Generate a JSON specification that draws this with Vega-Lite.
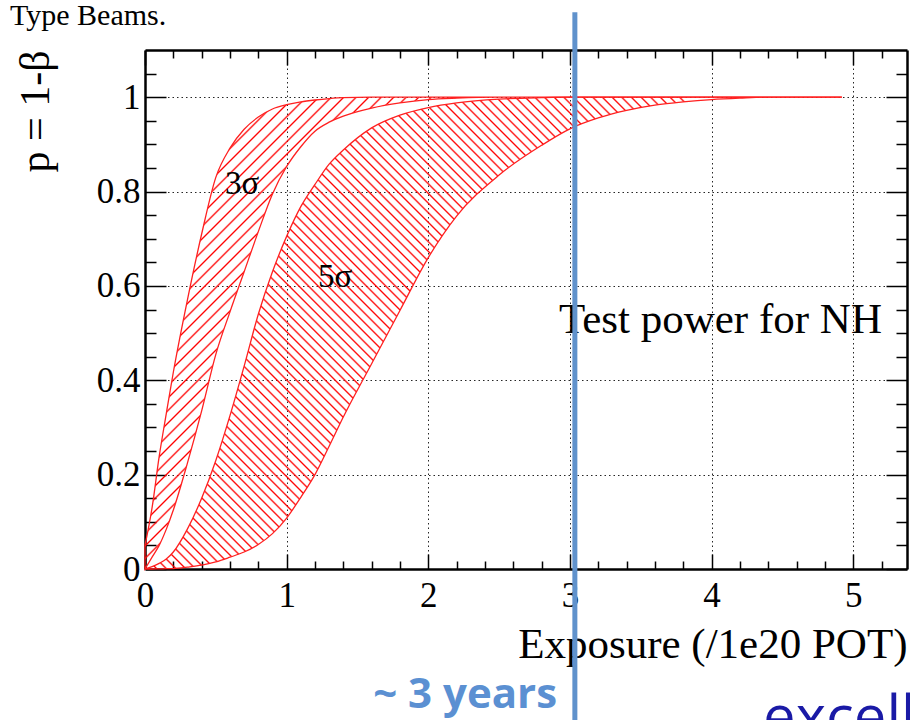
{
  "$schema": "https://vega.github.io/schema/vega-lite/v6.json",
  "width": 762,
  "height": 519,
  "autosize": "none",
  "padding": {"left": 145, "top": 50, "right": 3, "bottom": 151},
  "background": "white",
  "config": {"view": {"stroke": null}},
  "datasets": {
    "bands": [
      {"band": "3s", "x": 0, "lo": 0, "hi": 0.05},
      {"band": "3s", "x": 0.05, "lo": 0.025, "hi": 0.13},
      {"band": "3s", "x": 0.1, "lo": 0.05, "hi": 0.238},
      {"band": "3s", "x": 0.15, "lo": 0.084, "hi": 0.329},
      {"band": "3s", "x": 0.2, "lo": 0.125, "hi": 0.417},
      {"band": "3s", "x": 0.3, "lo": 0.225, "hi": 0.571},
      {"band": "3s", "x": 0.4, "lo": 0.335, "hi": 0.71},
      {"band": "3s", "x": 0.5, "lo": 0.455, "hi": 0.83},
      {"band": "3s", "x": 0.6, "lo": 0.545, "hi": 0.892},
      {"band": "3s", "x": 0.7, "lo": 0.63, "hi": 0.932},
      {"band": "3s", "x": 0.8, "lo": 0.715, "hi": 0.958},
      {"band": "3s", "x": 0.9, "lo": 0.795, "hi": 0.975},
      {"band": "3s", "x": 1.0, "lo": 0.853, "hi": 0.984},
      {"band": "3s", "x": 1.1, "lo": 0.895, "hi": 0.99},
      {"band": "3s", "x": 1.2, "lo": 0.928, "hi": 0.994},
      {"band": "3s", "x": 1.3, "lo": 0.947, "hi": 0.997},
      {"band": "3s", "x": 1.4, "lo": 0.96, "hi": 0.999},
      {"band": "3s", "x": 1.6, "lo": 0.977, "hi": 1},
      {"band": "3s", "x": 1.8, "lo": 0.988, "hi": 1},
      {"band": "3s", "x": 2.0, "lo": 0.995, "hi": 1},
      {"band": "3s", "x": 2.2, "lo": 0.998, "hi": 1},
      {"band": "3s", "x": 2.5, "lo": 1, "hi": 1},
      {"band": "3s", "x": 2.8, "lo": 1, "hi": 1},
      {"band": "3s", "x": 3.2, "lo": 1, "hi": 1},
      {"band": "3s", "x": 3.6, "lo": 1, "hi": 1},
      {"band": "3s", "x": 4.0, "lo": 1, "hi": 1},
      {"band": "3s", "x": 4.4, "lo": 1, "hi": 1},
      {"band": "3s", "x": 4.92, "lo": 1, "hi": 1},
      {"band": "5s", "x": 0, "lo": 0, "hi": 0},
      {"band": "5s", "x": 0.05, "lo": 0, "hi": 0.005},
      {"band": "5s", "x": 0.1, "lo": 0.0003, "hi": 0.012},
      {"band": "5s", "x": 0.15, "lo": 0.0006, "hi": 0.021},
      {"band": "5s", "x": 0.2, "lo": 0.001, "hi": 0.036},
      {"band": "5s", "x": 0.3, "lo": 0.004, "hi": 0.085},
      {"band": "5s", "x": 0.4, "lo": 0.008, "hi": 0.15},
      {"band": "5s", "x": 0.5, "lo": 0.015, "hi": 0.23},
      {"band": "5s", "x": 0.6, "lo": 0.025, "hi": 0.325},
      {"band": "5s", "x": 0.7, "lo": 0.036, "hi": 0.43},
      {"band": "5s", "x": 0.8, "lo": 0.052, "hi": 0.54},
      {"band": "5s", "x": 0.9, "lo": 0.075, "hi": 0.63},
      {"band": "5s", "x": 1.0, "lo": 0.108, "hi": 0.705},
      {"band": "5s", "x": 1.1, "lo": 0.152, "hi": 0.768},
      {"band": "5s", "x": 1.2, "lo": 0.2, "hi": 0.815},
      {"band": "5s", "x": 1.3, "lo": 0.26, "hi": 0.858},
      {"band": "5s", "x": 1.4, "lo": 0.322, "hi": 0.888},
      {"band": "5s", "x": 1.6, "lo": 0.435, "hi": 0.935},
      {"band": "5s", "x": 1.8, "lo": 0.548, "hi": 0.962},
      {"band": "5s", "x": 2.0, "lo": 0.66, "hi": 0.978},
      {"band": "5s", "x": 2.2, "lo": 0.748, "hi": 0.988},
      {"band": "5s", "x": 2.5, "lo": 0.835, "hi": 0.996},
      {"band": "5s", "x": 2.8, "lo": 0.898, "hi": 0.999},
      {"band": "5s", "x": 3.0, "lo": 0.933, "hi": 1},
      {"band": "5s", "x": 3.2, "lo": 0.956, "hi": 1},
      {"band": "5s", "x": 3.4, "lo": 0.972, "hi": 1},
      {"band": "5s", "x": 3.6, "lo": 0.983, "hi": 1},
      {"band": "5s", "x": 3.8, "lo": 0.99, "hi": 1},
      {"band": "5s", "x": 4.0, "lo": 0.995, "hi": 1},
      {"band": "5s", "x": 4.2, "lo": 0.998, "hi": 1},
      {"band": "5s", "x": 4.4, "lo": 1, "hi": 1},
      {"band": "5s", "x": 4.92, "lo": 1, "hi": 1}
    ]
  },
  "resolve": {"axis": {"x": "independent", "y": "independent"}},
  "layer": [
    {
      "data": {"name": "bands"},
      "transform": [{"filter": "datum.band === '3s'"}],
      "mark": {
        "type": "area", "stroke": "#ff2020", "strokeWidth": 1.3, "interpolate": "monotone",
        "fill": {
          "gradient": "linear", "x1": 0, "y1": 0, "x2": 1, "y2": 0.677,
          "stops": [
            {"offset": 0.12, "color": "rgba(255,0,0,0)"}, {"offset": 0.1218, "color": "#ff0000"}, {"offset": 0.1236, "color": "rgba(255,0,0,0)"},
            {"offset": 0.1323, "color": "rgba(255,0,0,0)"}, {"offset": 0.1341, "color": "#ff0000"}, {"offset": 0.1359, "color": "rgba(255,0,0,0)"},
            {"offset": 0.1446, "color": "rgba(255,0,0,0)"}, {"offset": 0.1464, "color": "#ff0000"}, {"offset": 0.1482, "color": "rgba(255,0,0,0)"},
            {"offset": 0.1569, "color": "rgba(255,0,0,0)"}, {"offset": 0.1587, "color": "#ff0000"}, {"offset": 0.1605, "color": "rgba(255,0,0,0)"},
            {"offset": 0.1692, "color": "rgba(255,0,0,0)"}, {"offset": 0.171, "color": "#ff0000"}, {"offset": 0.1728, "color": "rgba(255,0,0,0)"},
            {"offset": 0.1815, "color": "rgba(255,0,0,0)"}, {"offset": 0.1833, "color": "#ff0000"}, {"offset": 0.1851, "color": "rgba(255,0,0,0)"},
            {"offset": 0.1938, "color": "rgba(255,0,0,0)"}, {"offset": 0.1956, "color": "#ff0000"}, {"offset": 0.1974, "color": "rgba(255,0,0,0)"},
            {"offset": 0.2061, "color": "rgba(255,0,0,0)"}, {"offset": 0.2079, "color": "#ff0000"}, {"offset": 0.2097, "color": "rgba(255,0,0,0)"},
            {"offset": 0.2184, "color": "rgba(255,0,0,0)"}, {"offset": 0.2202, "color": "#ff0000"}, {"offset": 0.222, "color": "rgba(255,0,0,0)"},
            {"offset": 0.2307, "color": "rgba(255,0,0,0)"}, {"offset": 0.2325, "color": "#ff0000"}, {"offset": 0.2343, "color": "rgba(255,0,0,0)"},
            {"offset": 0.243, "color": "rgba(255,0,0,0)"}, {"offset": 0.2448, "color": "#ff0000"}, {"offset": 0.2466, "color": "rgba(255,0,0,0)"},
            {"offset": 0.2553, "color": "rgba(255,0,0,0)"}, {"offset": 0.2571, "color": "#ff0000"}, {"offset": 0.2589, "color": "rgba(255,0,0,0)"},
            {"offset": 0.2676, "color": "rgba(255,0,0,0)"}, {"offset": 0.2694, "color": "#ff0000"}, {"offset": 0.2712, "color": "rgba(255,0,0,0)"},
            {"offset": 0.2799, "color": "rgba(255,0,0,0)"}, {"offset": 0.2817, "color": "#ff0000"}, {"offset": 0.2835, "color": "rgba(255,0,0,0)"},
            {"offset": 0.2922, "color": "rgba(255,0,0,0)"}, {"offset": 0.294, "color": "#ff0000"}, {"offset": 0.2958, "color": "rgba(255,0,0,0)"},
            {"offset": 0.3045, "color": "rgba(255,0,0,0)"}, {"offset": 0.3063, "color": "#ff0000"}, {"offset": 0.3081, "color": "rgba(255,0,0,0)"},
            {"offset": 0.3168, "color": "rgba(255,0,0,0)"}, {"offset": 0.3186, "color": "#ff0000"}, {"offset": 0.3204, "color": "rgba(255,0,0,0)"},
            {"offset": 0.3291, "color": "rgba(255,0,0,0)"}, {"offset": 0.3309, "color": "#ff0000"}, {"offset": 0.3327, "color": "rgba(255,0,0,0)"},
            {"offset": 0.3414, "color": "rgba(255,0,0,0)"}, {"offset": 0.3432, "color": "#ff0000"}, {"offset": 0.345, "color": "rgba(255,0,0,0)"},
            {"offset": 0.3537, "color": "rgba(255,0,0,0)"}, {"offset": 0.3555, "color": "#ff0000"}, {"offset": 0.3573, "color": "rgba(255,0,0,0)"},
            {"offset": 0.366, "color": "rgba(255,0,0,0)"}, {"offset": 0.3678, "color": "#ff0000"}, {"offset": 0.3696, "color": "rgba(255,0,0,0)"},
            {"offset": 0.3783, "color": "rgba(255,0,0,0)"}, {"offset": 0.3801, "color": "#ff0000"}, {"offset": 0.3819, "color": "rgba(255,0,0,0)"},
            {"offset": 0.3906, "color": "rgba(255,0,0,0)"}, {"offset": 0.3924, "color": "#ff0000"}, {"offset": 0.3942, "color": "rgba(255,0,0,0)"},
            {"offset": 0.4029, "color": "rgba(255,0,0,0)"}, {"offset": 0.4047, "color": "#ff0000"}, {"offset": 0.4065, "color": "rgba(255,0,0,0)"},
            {"offset": 0.4152, "color": "rgba(255,0,0,0)"}, {"offset": 0.417, "color": "#ff0000"}, {"offset": 0.4188, "color": "rgba(255,0,0,0)"},
            {"offset": 0.4275, "color": "rgba(255,0,0,0)"}, {"offset": 0.4293, "color": "#ff0000"}, {"offset": 0.4311, "color": "rgba(255,0,0,0)"},
            {"offset": 0.4398, "color": "rgba(255,0,0,0)"}, {"offset": 0.4416, "color": "#ff0000"}, {"offset": 0.4434, "color": "rgba(255,0,0,0)"},
            {"offset": 0.4521, "color": "rgba(255,0,0,0)"}, {"offset": 0.4539, "color": "#ff0000"}, {"offset": 0.4557, "color": "rgba(255,0,0,0)"},
            {"offset": 0.4644, "color": "rgba(255,0,0,0)"}, {"offset": 0.4662, "color": "#ff0000"}, {"offset": 0.468, "color": "rgba(255,0,0,0)"},
            {"offset": 0.4767, "color": "rgba(255,0,0,0)"}, {"offset": 0.4785, "color": "#ff0000"}, {"offset": 0.4803, "color": "rgba(255,0,0,0)"}
          ]
        }
      },
      "encoding": {
        "x": {
          "field": "x", "type": "quantitative",
          "scale": {"domain": [0, 5.38], "nice": false, "zero": false},
          "axis": {
            "orient": "bottom",
            "values": [0, 0.2, 0.4, 0.6, 0.8, 1, 1.2, 1.4, 1.6, 1.8, 2, 2.2, 2.4, 2.6, 2.8, 3, 3.2, 3.4, 3.6, 3.8, 4, 4.2, 4.4, 4.6, 4.8, 5, 5.2],
            "labelExpr": "abs(datum.value - round(datum.value)) < 0.001 ? format(datum.value, 'd') : ''",
            "tickSize": {"condition": {"test": "abs(datum.value - round(datum.value)) < 0.001", "value": -15}, "value": -8},
            "tickColor": "#000", "tickWidth": 1.5,
            "grid": true, "gridColor": "#000", "gridDash": [1.5, 3], "gridWidth": 1,
            "gridOpacity": {"condition": {"test": "abs(datum.value - round(datum.value)) < 0.001 && datum.value > 0.001", "value": 0.85}, "value": 0},
            "domainColor": "#000", "domainWidth": 2.5,
            "labelFont": "Liberation Serif", "labelFontSize": 35, "labelColor": "#000",
            "labelPadding": 24, "labelFlush": false, "labelOverlap": false, "labelBound": false,
            "title": "Exposure (/1e20 POT)", "titleFont": "Liberation Serif", "titleFontSize": 43,
            "titleFontWeight": "normal", "titleColor": "#000", "titleAlign": "right",
            "titleBaseline": "alphabetic", "titleX": 762, "titleY": 88
          }
        },
        "y": {
          "field": "hi", "type": "quantitative",
          "scale": {"domain": [0, 1.1], "nice": false, "zero": false},
          "axis": {
            "orient": "left",
            "values": [0, 0.05, 0.1, 0.15, 0.2, 0.25, 0.3, 0.35, 0.4, 0.45, 0.5, 0.55, 0.6, 0.65, 0.7, 0.75, 0.8, 0.85, 0.9, 0.95, 1, 1.05],
            "labelExpr": "abs(datum.value * 5 - round(datum.value * 5)) < 0.001 ? format(datum.value, '.1~f') : ''",
            "tickSize": {"condition": {"test": "abs(datum.value * 5 - round(datum.value * 5)) < 0.001", "value": -21}, "value": -11},
            "tickColor": "#000", "tickWidth": 1.5,
            "grid": true, "gridColor": "#000", "gridDash": [1.5, 3], "gridWidth": 1,
            "gridOpacity": {"condition": {"test": "abs(datum.value * 5 - round(datum.value * 5)) < 0.001 && datum.value > 0.001", "value": 0.85}, "value": 0},
            "domainColor": "#000", "domainWidth": 2.5,
            "labelFont": "Liberation Serif", "labelFontSize": 35, "labelColor": "#000",
            "labelPadding": 26, "labelFlush": false, "labelOverlap": false, "labelBound": false,
            "title": "p = 1-β", "titleFont": "Liberation Serif", "titleFontSize": 42,
            "titleFontWeight": "normal", "titleColor": "#000", "titleAngle": -90,
            "titleAlign": "right", "titleBaseline": "bottom", "titleX": -88, "titleY": 0
          }
        },
        "y2": {"field": "lo"}
      }
    },
    {
      "data": {"name": "bands"},
      "transform": [{"filter": "datum.band === '5s'"}],
      "mark": {
        "type": "area", "stroke": "#ff2020", "strokeWidth": 1.3, "interpolate": "monotone",
        "fill": {
          "gradient": "linear", "x1": 0, "y1": 1, "x2": 1, "y2": 0.323,
          "stops": [
            {"offset": 0.01, "color": "rgba(255,0,0,0)"}, {"offset": 0.0118, "color": "#ff0000"}, {"offset": 0.0136, "color": "rgba(255,0,0,0)"},
            {"offset": 0.0195, "color": "rgba(255,0,0,0)"}, {"offset": 0.0213, "color": "#ff0000"}, {"offset": 0.0231, "color": "rgba(255,0,0,0)"},
            {"offset": 0.029, "color": "rgba(255,0,0,0)"}, {"offset": 0.0308, "color": "#ff0000"}, {"offset": 0.0326, "color": "rgba(255,0,0,0)"},
            {"offset": 0.0385, "color": "rgba(255,0,0,0)"}, {"offset": 0.0403, "color": "#ff0000"}, {"offset": 0.0421, "color": "rgba(255,0,0,0)"},
            {"offset": 0.048, "color": "rgba(255,0,0,0)"}, {"offset": 0.0498, "color": "#ff0000"}, {"offset": 0.0516, "color": "rgba(255,0,0,0)"},
            {"offset": 0.0575, "color": "rgba(255,0,0,0)"}, {"offset": 0.0593, "color": "#ff0000"}, {"offset": 0.0611, "color": "rgba(255,0,0,0)"},
            {"offset": 0.067, "color": "rgba(255,0,0,0)"}, {"offset": 0.0688, "color": "#ff0000"}, {"offset": 0.0706, "color": "rgba(255,0,0,0)"},
            {"offset": 0.0765, "color": "rgba(255,0,0,0)"}, {"offset": 0.0783, "color": "#ff0000"}, {"offset": 0.0801, "color": "rgba(255,0,0,0)"},
            {"offset": 0.086, "color": "rgba(255,0,0,0)"}, {"offset": 0.0878, "color": "#ff0000"}, {"offset": 0.0896, "color": "rgba(255,0,0,0)"},
            {"offset": 0.0955, "color": "rgba(255,0,0,0)"}, {"offset": 0.0973, "color": "#ff0000"}, {"offset": 0.0991, "color": "rgba(255,0,0,0)"},
            {"offset": 0.105, "color": "rgba(255,0,0,0)"}, {"offset": 0.1068, "color": "#ff0000"}, {"offset": 0.1086, "color": "rgba(255,0,0,0)"},
            {"offset": 0.1145, "color": "rgba(255,0,0,0)"}, {"offset": 0.1163, "color": "#ff0000"}, {"offset": 0.1181, "color": "rgba(255,0,0,0)"},
            {"offset": 0.124, "color": "rgba(255,0,0,0)"}, {"offset": 0.1258, "color": "#ff0000"}, {"offset": 0.1276, "color": "rgba(255,0,0,0)"},
            {"offset": 0.1335, "color": "rgba(255,0,0,0)"}, {"offset": 0.1353, "color": "#ff0000"}, {"offset": 0.1371, "color": "rgba(255,0,0,0)"},
            {"offset": 0.143, "color": "rgba(255,0,0,0)"}, {"offset": 0.1448, "color": "#ff0000"}, {"offset": 0.1466, "color": "rgba(255,0,0,0)"},
            {"offset": 0.1525, "color": "rgba(255,0,0,0)"}, {"offset": 0.1543, "color": "#ff0000"}, {"offset": 0.1561, "color": "rgba(255,0,0,0)"},
            {"offset": 0.162, "color": "rgba(255,0,0,0)"}, {"offset": 0.1638, "color": "#ff0000"}, {"offset": 0.1656, "color": "rgba(255,0,0,0)"},
            {"offset": 0.1715, "color": "rgba(255,0,0,0)"}, {"offset": 0.1733, "color": "#ff0000"}, {"offset": 0.1751, "color": "rgba(255,0,0,0)"},
            {"offset": 0.181, "color": "rgba(255,0,0,0)"}, {"offset": 0.1828, "color": "#ff0000"}, {"offset": 0.1846, "color": "rgba(255,0,0,0)"},
            {"offset": 0.1905, "color": "rgba(255,0,0,0)"}, {"offset": 0.1923, "color": "#ff0000"}, {"offset": 0.1941, "color": "rgba(255,0,0,0)"},
            {"offset": 0.2, "color": "rgba(255,0,0,0)"}, {"offset": 0.2018, "color": "#ff0000"}, {"offset": 0.2036, "color": "rgba(255,0,0,0)"},
            {"offset": 0.2095, "color": "rgba(255,0,0,0)"}, {"offset": 0.2113, "color": "#ff0000"}, {"offset": 0.2131, "color": "rgba(255,0,0,0)"},
            {"offset": 0.219, "color": "rgba(255,0,0,0)"}, {"offset": 0.2208, "color": "#ff0000"}, {"offset": 0.2226, "color": "rgba(255,0,0,0)"},
            {"offset": 0.2285, "color": "rgba(255,0,0,0)"}, {"offset": 0.2303, "color": "#ff0000"}, {"offset": 0.2321, "color": "rgba(255,0,0,0)"},
            {"offset": 0.238, "color": "rgba(255,0,0,0)"}, {"offset": 0.2398, "color": "#ff0000"}, {"offset": 0.2416, "color": "rgba(255,0,0,0)"},
            {"offset": 0.2475, "color": "rgba(255,0,0,0)"}, {"offset": 0.2493, "color": "#ff0000"}, {"offset": 0.2511, "color": "rgba(255,0,0,0)"},
            {"offset": 0.257, "color": "rgba(255,0,0,0)"}, {"offset": 0.2588, "color": "#ff0000"}, {"offset": 0.2606, "color": "rgba(255,0,0,0)"},
            {"offset": 0.2665, "color": "rgba(255,0,0,0)"}, {"offset": 0.2683, "color": "#ff0000"}, {"offset": 0.2701, "color": "rgba(255,0,0,0)"},
            {"offset": 0.276, "color": "rgba(255,0,0,0)"}, {"offset": 0.2778, "color": "#ff0000"}, {"offset": 0.2796, "color": "rgba(255,0,0,0)"},
            {"offset": 0.2855, "color": "rgba(255,0,0,0)"}, {"offset": 0.2873, "color": "#ff0000"}, {"offset": 0.2891, "color": "rgba(255,0,0,0)"},
            {"offset": 0.295, "color": "rgba(255,0,0,0)"}, {"offset": 0.2968, "color": "#ff0000"}, {"offset": 0.2986, "color": "rgba(255,0,0,0)"},
            {"offset": 0.3045, "color": "rgba(255,0,0,0)"}, {"offset": 0.3063, "color": "#ff0000"}, {"offset": 0.3081, "color": "rgba(255,0,0,0)"},
            {"offset": 0.314, "color": "rgba(255,0,0,0)"}, {"offset": 0.3158, "color": "#ff0000"}, {"offset": 0.3176, "color": "rgba(255,0,0,0)"},
            {"offset": 0.3235, "color": "rgba(255,0,0,0)"}, {"offset": 0.3253, "color": "#ff0000"}, {"offset": 0.3271, "color": "rgba(255,0,0,0)"},
            {"offset": 0.333, "color": "rgba(255,0,0,0)"}, {"offset": 0.3348, "color": "#ff0000"}, {"offset": 0.3366, "color": "rgba(255,0,0,0)"},
            {"offset": 0.3425, "color": "rgba(255,0,0,0)"}, {"offset": 0.3443, "color": "#ff0000"}, {"offset": 0.3461, "color": "rgba(255,0,0,0)"},
            {"offset": 0.352, "color": "rgba(255,0,0,0)"}, {"offset": 0.3538, "color": "#ff0000"}, {"offset": 0.3556, "color": "rgba(255,0,0,0)"},
            {"offset": 0.3615, "color": "rgba(255,0,0,0)"}, {"offset": 0.3633, "color": "#ff0000"}, {"offset": 0.3651, "color": "rgba(255,0,0,0)"},
            {"offset": 0.371, "color": "rgba(255,0,0,0)"}, {"offset": 0.3728, "color": "#ff0000"}, {"offset": 0.3746, "color": "rgba(255,0,0,0)"},
            {"offset": 0.3805, "color": "rgba(255,0,0,0)"}, {"offset": 0.3823, "color": "#ff0000"}, {"offset": 0.3841, "color": "rgba(255,0,0,0)"},
            {"offset": 0.39, "color": "rgba(255,0,0,0)"}, {"offset": 0.3918, "color": "#ff0000"}, {"offset": 0.3936, "color": "rgba(255,0,0,0)"},
            {"offset": 0.3995, "color": "rgba(255,0,0,0)"}, {"offset": 0.4013, "color": "#ff0000"}, {"offset": 0.4031, "color": "rgba(255,0,0,0)"},
            {"offset": 0.409, "color": "rgba(255,0,0,0)"}, {"offset": 0.4108, "color": "#ff0000"}, {"offset": 0.4126, "color": "rgba(255,0,0,0)"},
            {"offset": 0.4185, "color": "rgba(255,0,0,0)"}, {"offset": 0.4203, "color": "#ff0000"}, {"offset": 0.4221, "color": "rgba(255,0,0,0)"},
            {"offset": 0.428, "color": "rgba(255,0,0,0)"}, {"offset": 0.4298, "color": "#ff0000"}, {"offset": 0.4316, "color": "rgba(255,0,0,0)"},
            {"offset": 0.4375, "color": "rgba(255,0,0,0)"}, {"offset": 0.4393, "color": "#ff0000"}, {"offset": 0.4411, "color": "rgba(255,0,0,0)"},
            {"offset": 0.447, "color": "rgba(255,0,0,0)"}, {"offset": 0.4488, "color": "#ff0000"}, {"offset": 0.4506, "color": "rgba(255,0,0,0)"},
            {"offset": 0.4565, "color": "rgba(255,0,0,0)"}, {"offset": 0.4583, "color": "#ff0000"}, {"offset": 0.4601, "color": "rgba(255,0,0,0)"},
            {"offset": 0.466, "color": "rgba(255,0,0,0)"}, {"offset": 0.4678, "color": "#ff0000"}, {"offset": 0.4696, "color": "rgba(255,0,0,0)"},
            {"offset": 0.4755, "color": "rgba(255,0,0,0)"}, {"offset": 0.4773, "color": "#ff0000"}, {"offset": 0.4791, "color": "rgba(255,0,0,0)"},
            {"offset": 0.485, "color": "rgba(255,0,0,0)"}, {"offset": 0.4868, "color": "#ff0000"}, {"offset": 0.4886, "color": "rgba(255,0,0,0)"},
            {"offset": 0.4945, "color": "rgba(255,0,0,0)"}, {"offset": 0.4963, "color": "#ff0000"}, {"offset": 0.4981, "color": "rgba(255,0,0,0)"},
            {"offset": 0.504, "color": "rgba(255,0,0,0)"}, {"offset": 0.5058, "color": "#ff0000"}, {"offset": 0.5076, "color": "rgba(255,0,0,0)"},
            {"offset": 0.5135, "color": "rgba(255,0,0,0)"}, {"offset": 0.5153, "color": "#ff0000"}, {"offset": 0.5171, "color": "rgba(255,0,0,0)"},
            {"offset": 0.523, "color": "rgba(255,0,0,0)"}, {"offset": 0.5248, "color": "#ff0000"}, {"offset": 0.5266, "color": "rgba(255,0,0,0)"},
            {"offset": 0.5325, "color": "rgba(255,0,0,0)"}, {"offset": 0.5343, "color": "#ff0000"}, {"offset": 0.5361, "color": "rgba(255,0,0,0)"},
            {"offset": 0.542, "color": "rgba(255,0,0,0)"}, {"offset": 0.5438, "color": "#ff0000"}, {"offset": 0.5456, "color": "rgba(255,0,0,0)"},
            {"offset": 0.5515, "color": "rgba(255,0,0,0)"}, {"offset": 0.5533, "color": "#ff0000"}, {"offset": 0.5551, "color": "rgba(255,0,0,0)"},
            {"offset": 0.561, "color": "rgba(255,0,0,0)"}, {"offset": 0.5628, "color": "#ff0000"}, {"offset": 0.5646, "color": "rgba(255,0,0,0)"},
            {"offset": 0.5705, "color": "rgba(255,0,0,0)"}, {"offset": 0.5723, "color": "#ff0000"}, {"offset": 0.5741, "color": "rgba(255,0,0,0)"},
            {"offset": 0.58, "color": "rgba(255,0,0,0)"}, {"offset": 0.5818, "color": "#ff0000"}, {"offset": 0.5836, "color": "rgba(255,0,0,0)"},
            {"offset": 0.5895, "color": "rgba(255,0,0,0)"}, {"offset": 0.5913, "color": "#ff0000"}, {"offset": 0.5931, "color": "rgba(255,0,0,0)"},
            {"offset": 0.599, "color": "rgba(255,0,0,0)"}, {"offset": 0.6008, "color": "#ff0000"}, {"offset": 0.6026, "color": "rgba(255,0,0,0)"},
            {"offset": 0.6085, "color": "rgba(255,0,0,0)"}, {"offset": 0.6103, "color": "#ff0000"}, {"offset": 0.6121, "color": "rgba(255,0,0,0)"},
            {"offset": 0.618, "color": "rgba(255,0,0,0)"}, {"offset": 0.6198, "color": "#ff0000"}, {"offset": 0.6216, "color": "rgba(255,0,0,0)"},
            {"offset": 0.6275, "color": "rgba(255,0,0,0)"}, {"offset": 0.6293, "color": "#ff0000"}, {"offset": 0.6311, "color": "rgba(255,0,0,0)"},
            {"offset": 0.637, "color": "rgba(255,0,0,0)"}, {"offset": 0.6388, "color": "#ff0000"}, {"offset": 0.6406, "color": "rgba(255,0,0,0)"},
            {"offset": 0.6465, "color": "rgba(255,0,0,0)"}, {"offset": 0.6483, "color": "#ff0000"}, {"offset": 0.6501, "color": "rgba(255,0,0,0)"},
            {"offset": 0.656, "color": "rgba(255,0,0,0)"}, {"offset": 0.6578, "color": "#ff0000"}, {"offset": 0.6596, "color": "rgba(255,0,0,0)"},
            {"offset": 0.6655, "color": "rgba(255,0,0,0)"}, {"offset": 0.6673, "color": "#ff0000"}, {"offset": 0.6691, "color": "rgba(255,0,0,0)"},
            {"offset": 0.675, "color": "rgba(255,0,0,0)"}, {"offset": 0.6768, "color": "#ff0000"}, {"offset": 0.6786, "color": "rgba(255,0,0,0)"},
            {"offset": 0.6845, "color": "rgba(255,0,0,0)"}, {"offset": 0.6863, "color": "#ff0000"}, {"offset": 0.6881, "color": "rgba(255,0,0,0)"},
            {"offset": 0.694, "color": "rgba(255,0,0,0)"}, {"offset": 0.6958, "color": "#ff0000"}, {"offset": 0.6976, "color": "rgba(255,0,0,0)"},
            {"offset": 0.7035, "color": "rgba(255,0,0,0)"}, {"offset": 0.7053, "color": "#ff0000"}, {"offset": 0.7071, "color": "rgba(255,0,0,0)"},
            {"offset": 0.713, "color": "rgba(255,0,0,0)"}, {"offset": 0.7148, "color": "#ff0000"}, {"offset": 0.7166, "color": "rgba(255,0,0,0)"},
            {"offset": 0.7225, "color": "rgba(255,0,0,0)"}, {"offset": 0.7243, "color": "#ff0000"}, {"offset": 0.7261, "color": "rgba(255,0,0,0)"},
            {"offset": 0.732, "color": "rgba(255,0,0,0)"}, {"offset": 0.7338, "color": "#ff0000"}, {"offset": 0.7356, "color": "rgba(255,0,0,0)"},
            {"offset": 0.7415, "color": "rgba(255,0,0,0)"}, {"offset": 0.7433, "color": "#ff0000"}, {"offset": 0.7451, "color": "rgba(255,0,0,0)"},
            {"offset": 0.751, "color": "rgba(255,0,0,0)"}, {"offset": 0.7528, "color": "#ff0000"}, {"offset": 0.7546, "color": "rgba(255,0,0,0)"},
            {"offset": 0.7605, "color": "rgba(255,0,0,0)"}, {"offset": 0.7623, "color": "#ff0000"}, {"offset": 0.7641, "color": "rgba(255,0,0,0)"},
            {"offset": 0.77, "color": "rgba(255,0,0,0)"}, {"offset": 0.7718, "color": "#ff0000"}, {"offset": 0.7736, "color": "rgba(255,0,0,0)"},
            {"offset": 0.7795, "color": "rgba(255,0,0,0)"}, {"offset": 0.7813, "color": "#ff0000"}, {"offset": 0.7831, "color": "rgba(255,0,0,0)"},
            {"offset": 0.789, "color": "rgba(255,0,0,0)"}, {"offset": 0.7908, "color": "#ff0000"}, {"offset": 0.7926, "color": "rgba(255,0,0,0)"},
            {"offset": 0.7985, "color": "rgba(255,0,0,0)"}, {"offset": 0.8003, "color": "#ff0000"}, {"offset": 0.8021, "color": "rgba(255,0,0,0)"},
            {"offset": 0.808, "color": "rgba(255,0,0,0)"}, {"offset": 0.8098, "color": "#ff0000"}, {"offset": 0.8116, "color": "rgba(255,0,0,0)"},
            {"offset": 0.8175, "color": "rgba(255,0,0,0)"}, {"offset": 0.8193, "color": "#ff0000"}, {"offset": 0.8211, "color": "rgba(255,0,0,0)"},
            {"offset": 0.827, "color": "rgba(255,0,0,0)"}, {"offset": 0.8288, "color": "#ff0000"}, {"offset": 0.8306, "color": "rgba(255,0,0,0)"},
            {"offset": 0.8365, "color": "rgba(255,0,0,0)"}, {"offset": 0.8383, "color": "#ff0000"}, {"offset": 0.8401, "color": "rgba(255,0,0,0)"},
            {"offset": 0.846, "color": "rgba(255,0,0,0)"}, {"offset": 0.8478, "color": "#ff0000"}, {"offset": 0.8496, "color": "rgba(255,0,0,0)"},
            {"offset": 0.8555, "color": "rgba(255,0,0,0)"}, {"offset": 0.8573, "color": "#ff0000"}, {"offset": 0.8591, "color": "rgba(255,0,0,0)"},
            {"offset": 0.865, "color": "rgba(255,0,0,0)"}, {"offset": 0.8668, "color": "#ff0000"}, {"offset": 0.8686, "color": "rgba(255,0,0,0)"},
            {"offset": 0.8745, "color": "rgba(255,0,0,0)"}, {"offset": 0.8763, "color": "#ff0000"}, {"offset": 0.8781, "color": "rgba(255,0,0,0)"},
            {"offset": 0.884, "color": "rgba(255,0,0,0)"}, {"offset": 0.8858, "color": "#ff0000"}, {"offset": 0.8876, "color": "rgba(255,0,0,0)"},
            {"offset": 0.8935, "color": "rgba(255,0,0,0)"}, {"offset": 0.8953, "color": "#ff0000"}, {"offset": 0.8971, "color": "rgba(255,0,0,0)"},
            {"offset": 0.903, "color": "rgba(255,0,0,0)"}, {"offset": 0.9048, "color": "#ff0000"}, {"offset": 0.9066, "color": "rgba(255,0,0,0)"},
            {"offset": 0.9125, "color": "rgba(255,0,0,0)"}, {"offset": 0.9143, "color": "#ff0000"}, {"offset": 0.9161, "color": "rgba(255,0,0,0)"},
            {"offset": 0.922, "color": "rgba(255,0,0,0)"}, {"offset": 0.9238, "color": "#ff0000"}, {"offset": 0.9256, "color": "rgba(255,0,0,0)"},
            {"offset": 0.9315, "color": "rgba(255,0,0,0)"}, {"offset": 0.9333, "color": "#ff0000"}, {"offset": 0.9351, "color": "rgba(255,0,0,0)"},
            {"offset": 0.941, "color": "rgba(255,0,0,0)"}, {"offset": 0.9428, "color": "#ff0000"}, {"offset": 0.9446, "color": "rgba(255,0,0,0)"},
            {"offset": 0.9505, "color": "rgba(255,0,0,0)"}, {"offset": 0.9523, "color": "#ff0000"}, {"offset": 0.9541, "color": "rgba(255,0,0,0)"},
            {"offset": 0.96, "color": "rgba(255,0,0,0)"}, {"offset": 0.9618, "color": "#ff0000"}, {"offset": 0.9636, "color": "rgba(255,0,0,0)"},
            {"offset": 0.9695, "color": "rgba(255,0,0,0)"}, {"offset": 0.9713, "color": "#ff0000"}, {"offset": 0.9731, "color": "rgba(255,0,0,0)"},
            {"offset": 0.979, "color": "rgba(255,0,0,0)"}, {"offset": 0.9808, "color": "#ff0000"}, {"offset": 0.9826, "color": "rgba(255,0,0,0)"},
            {"offset": 0.9885, "color": "rgba(255,0,0,0)"}, {"offset": 0.9903, "color": "#ff0000"}, {"offset": 0.9921, "color": "rgba(255,0,0,0)"}
          ]
        }
      },
      "encoding": {
        "x": {
          "field": "x", "type": "quantitative",
          "scale": {"domain": [0, 5.38], "nice": false, "zero": false},
          "axis": {
            "orient": "top",
            "values": [0, 0.2, 0.4, 0.6, 0.8, 1, 1.2, 1.4, 1.6, 1.8, 2, 2.2, 2.4, 2.6, 2.8, 3, 3.2, 3.4, 3.6, 3.8, 4, 4.2, 4.4, 4.6, 4.8, 5, 5.2],
            "labels": false,
            "tickSize": {"condition": {"test": "abs(datum.value - round(datum.value)) < 0.001", "value": -15}, "value": -8},
            "tickColor": "#000", "tickWidth": 1.5,
            "grid": false,
            "domainColor": "#000", "domainWidth": 2.5,
            "title": null
          }
        },
        "y": {
          "field": "hi", "type": "quantitative",
          "scale": {"domain": [0, 1.1], "nice": false, "zero": false},
          "axis": {
            "orient": "right",
            "values": [0, 0.05, 0.1, 0.15, 0.2, 0.25, 0.3, 0.35, 0.4, 0.45, 0.5, 0.55, 0.6, 0.65, 0.7, 0.75, 0.8, 0.85, 0.9, 0.95, 1, 1.05],
            "labels": false,
            "tickSize": {"condition": {"test": "abs(datum.value * 5 - round(datum.value * 5)) < 0.001", "value": -21}, "value": -11},
            "tickColor": "#000", "tickWidth": 1.5,
            "grid": false,
            "domainColor": "#000", "domainWidth": 2.5,
            "title": null
          }
        },
        "y2": {"field": "lo"}
      }
    },
    {
      "data": {"values": [
        {"label": "3σ", "x": 0.685, "y": 0.816},
        {"label": "5σ", "x": 1.342, "y": 0.619}
      ]},
      "mark": {"type": "text", "font": "Liberation Serif", "fontSize": 33, "color": "#000", "align": "center", "baseline": "middle"},
      "encoding": {
        "x": {"field": "x", "type": "quantitative", "axis": null},
        "y": {"field": "y", "type": "quantitative", "axis": null},
        "text": {"field": "label"}
      }
    },
    {
      "data": {"values": [{"label": "Test power for NH", "x": 5.203, "y": 0.5}]},
      "mark": {"type": "text", "font": "Liberation Serif", "fontSize": 43, "color": "#000", "align": "right", "baseline": "alphabetic"},
      "encoding": {
        "x": {"field": "x", "type": "quantitative", "axis": null},
        "y": {"field": "y", "type": "quantitative", "axis": null},
        "text": {"field": "label"}
      }
    },
    {
      "data": {"values": [{"label": "Type Beams.", "x": -0.953, "y": 1.153}]},
      "mark": {"type": "text", "font": "Liberation Serif", "fontSize": 30, "color": "#000", "align": "left", "baseline": "alphabetic"},
      "encoding": {
        "x": {"field": "x", "type": "quantitative", "axis": null},
        "y": {"field": "y", "type": "quantitative", "axis": null},
        "text": {"field": "label"}
      }
    },
    {
      "data": {"values": [{"label": "~ 3 years", "x": 2.26, "y": -0.295}]},
      "mark": {"type": "text", "font": "Open Sans", "fontWeight": "bold", "fontSize": 42, "color": "#5b90d2", "align": "center", "baseline": "alphabetic"},
      "encoding": {
        "x": {"field": "x", "type": "quantitative", "axis": null},
        "y": {"field": "y", "type": "quantitative", "axis": null},
        "text": {"field": "label"}
      }
    },
    {
      "data": {"values": [{"label": "excellent", "x": 4.364, "y": -0.356}]},
      "mark": {"type": "text", "font": "Open Sans", "fontSize": 58, "color": "#1a1aa6", "align": "left", "baseline": "alphabetic"},
      "encoding": {
        "x": {"field": "x", "type": "quantitative", "axis": null},
        "y": {"field": "y", "type": "quantitative", "axis": null},
        "text": {"field": "label"}
      }
    },
    {
      "data": {"values": [{"x": 3.035, "y": 1.18, "y2": -0.36}]},
      "mark": {"type": "rule", "color": "#6092cc", "strokeWidth": 5},
      "encoding": {
        "x": {"field": "x", "type": "quantitative", "axis": null},
        "y": {"field": "y", "type": "quantitative", "axis": null},
        "y2": {"field": "y2"}
      }
    }
  ]
}
